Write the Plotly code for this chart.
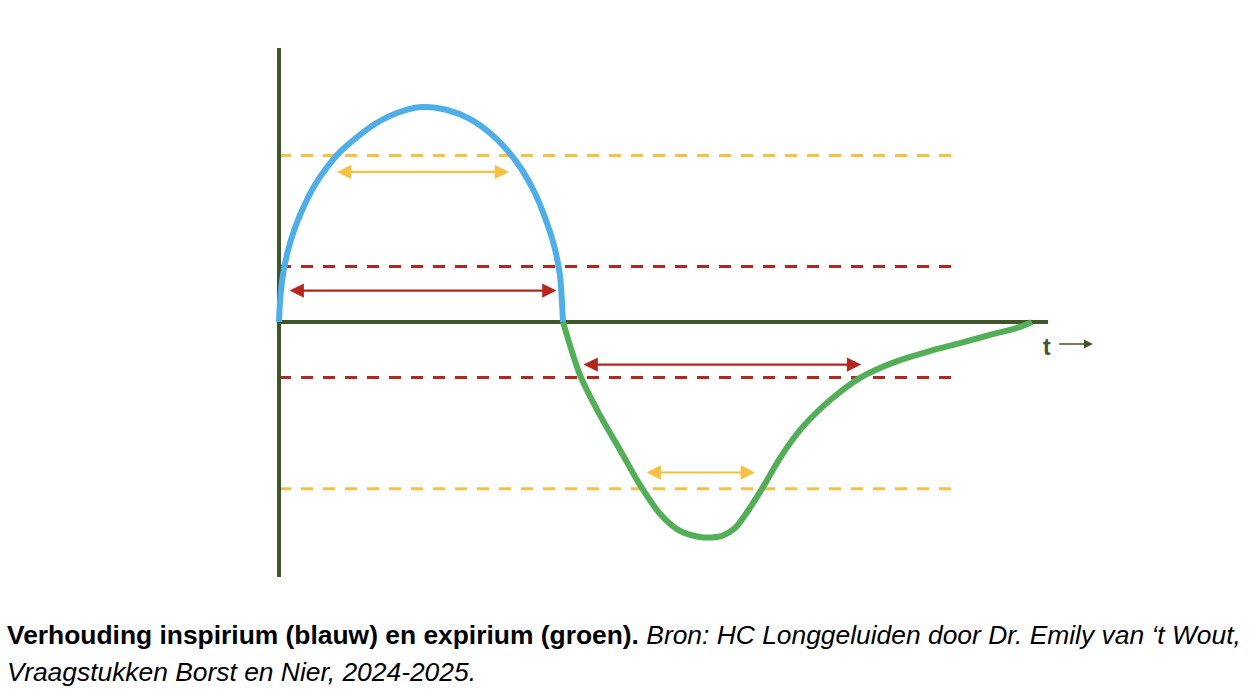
import plotly.graph_objects as go

# ---- data (time in arbitrary units, flow in % of peak) ----
insp_t = [0, 0.04, 0.14, 0.32, 0.56, 0.85, 1.2, 1.62, 2.15, 2.75, 3.38, 4.15, 5.04, 5.92, 6.73, 7.43, 8.03,
          8.56, 9.01, 9.37, 9.68, 9.89, 9.96, 10.0]
insp_v = [0, 10.2, 21.9, 33.5, 43.7, 53.0, 62.3, 70.7, 79.1, 86.0, 92.1, 97.2, 100, 98.6, 94.4, 87.9, 80.0,
          70.7, 60.0, 48.4, 35.8, 21.9, 10.2, 0]

exp_t = [10.0, 10.6, 11.3, 12.01, 12.71, 13.42, 14.12, 14.82, 15.25, 15.6, 16.06, 16.58, 17.11, 17.64, 18.35,
         19.05, 19.75, 20.46, 21.16, 21.87, 22.92, 23.98, 25.04, 26.09, 26.51]
exp_v = [0, -24.7, -43.3, -59.5, -75.8, -89.3, -97.2, -100, -100.2, -99.5, -95.8, -86.5, -75.3, -63.3, -50.2,
         -40.5, -32.6, -26.0, -21.4, -17.7, -13.5, -9.8, -6.0, -2.3, 0]

yellow_levels = [77.5, -77.5]
red_levels = [25.8, -25.8]
dash_end = 23.73

# double-headed duration arrows
arrows_t0 = [1.99, 0.32, 10.67, 12.89]
arrows_t1 = [8.1, 9.77, 20.5, 16.76]
arrows_v = [69.8, 14.6, -19.8, -70.0]
arrows_kind = ["yellow", "red", "red", "yellow"]

axis_t_max = 27.08
axis_v_min, axis_v_max = -118.6, 127.4

caption_bold = "Verhouding inspirium (blauw) en expirium (groen)."
caption_ital1 = "Bron: HC Longgeluiden door Dr. Emily van \u2018t Wout,"
caption_ital2 = "Vraagstukken Borst en Nier, 2024-2025."

BLUE = "#4FAEE8"
GREEN = "#52AF58"
YELLOW = "#F6C143"
RED = "#B5271E"
AXIS = "#3F5628"
colours = {"yellow": YELLOW, "red": RED}

fig = go.Figure()

# dashed threshold lines
for lv in yellow_levels:
    fig.add_trace(go.Scatter(x=[0, dash_end], y=[lv, lv], mode="lines",
                             line=dict(color=YELLOW, width=3, dash="12px,10px"), hoverinfo="skip"))
for lv in red_levels:
    fig.add_trace(go.Scatter(x=[0, dash_end], y=[lv, lv], mode="lines",
                             line=dict(color=RED, width=3, dash="12px,10px"), hoverinfo="skip"))

# axes
fig.add_trace(go.Scatter(x=[0, 0], y=[axis_v_min, axis_v_max], mode="lines",
                         line=dict(color=AXIS, width=4), hoverinfo="skip"))
fig.add_trace(go.Scatter(x=[0, axis_t_max], y=[0, 0], mode="lines",
                         line=dict(color=AXIS, width=4), hoverinfo="skip"))

# curves
fig.add_trace(go.Scatter(x=insp_t, y=insp_v, mode="lines",
                         line=dict(color=BLUE, width=6, shape="spline", smoothing=0.8)))
fig.add_trace(go.Scatter(x=exp_t, y=exp_v, mode="lines",
                         line=dict(color=GREEN, width=6, shape="spline", smoothing=0.8)))

annotations = []
for t0, t1, v, k in zip(arrows_t0, arrows_t1, arrows_v, arrows_kind):
    annotations.append(dict(x=t1, y=v, ax=t0, ay=v, xref="x", yref="y", axref="x", ayref="y",
                            text="", showarrow=True, arrowside="end+start", arrowhead=2,
                            arrowsize=1.3, arrowwidth=2.2, arrowcolor=colours[k], standoff=0, startstandoff=0))

# t label and arrow
annotations.append(dict(x=27.04, y=-11.4, xref="x", yref="y", text="<b>t</b>", showarrow=False,
                        font=dict(family="Liberation Sans", size=23, color=AXIS), xanchor="center",
                        yanchor="middle"))
annotations.append(dict(x=28.66, y=-10.2, ax=27.42, ay=-10.2, xref="x", yref="y", axref="x", ayref="y",
                        text="", showarrow=True, arrowhead=2, arrowsize=1.2, arrowwidth=1.5,
                        arrowcolor=AXIS, standoff=0))

# caption
annotations.append(dict(x=5 / 1250, y=1 - 635 / 696, xref="paper", yref="paper", xanchor="left", yanchor="middle",
                        text="<b>" + caption_bold + "</b> <i>" + caption_ital1 + "</i>", showarrow=False,
                        font=dict(family="Liberation Sans", size=26.4, color="#000000")))
annotations.append(dict(x=5 / 1250, y=1 - 672 / 696, xref="paper", yref="paper", xanchor="left", yanchor="middle",
                        text="<i>" + caption_ital2 + "</i>", showarrow=False,
                        font=dict(family="Liberation Sans", size=26.4, color="#000000")))

fig.update_layout(
    width=1250, height=696,
    margin=dict(l=0, r=0, t=0, b=0),
    paper_bgcolor="white", plot_bgcolor="white",
    showlegend=False,
    xaxis=dict(range=[-279 / 28.4, (1250 - 279) / 28.4], visible=False, fixedrange=True),
    yaxis=dict(range=[(322 - 696) / 2.15, 322 / 2.15], visible=False, fixedrange=True),
    annotations=annotations,
)

fig.write_html("out.html")
